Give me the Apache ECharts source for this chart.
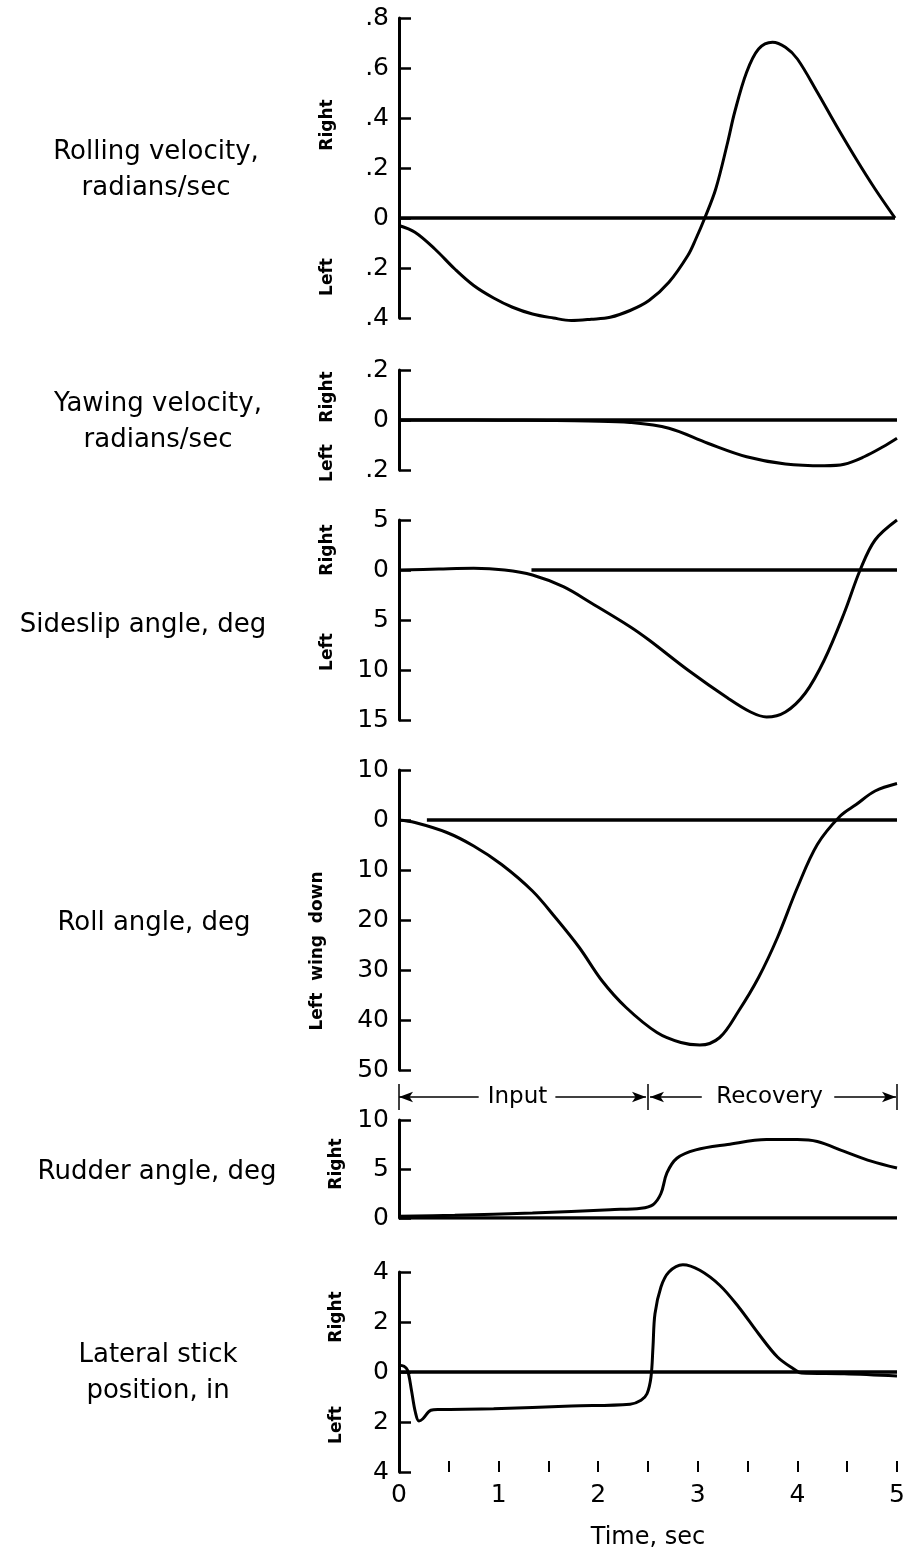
<!DOCTYPE html>
<html><head><meta charset="utf-8">
<script src="https://cdn.jsdelivr.net/npm/echarts@6/dist/echarts.min.js"></script>
<style>html,body{margin:0;padding:0;background:#fff}#c{width:911px;height:1550px}</style>
</head><body><div id="c"></div>
<script>
// ---- data (time in seconds) ----
const timeTicks = [0, 1, 2, 3, 4, 5];

const rollRateT = [0, 0.16, 0.36, 0.56, 0.75, 0.95, 1.14, 1.34, 1.55, 1.73, 1.93, 2.12, 2.32, 2.51, 2.71, 2.90, 2.98, 3.07, 3.18, 3.30, 3.37, 3.49, 3.61, 3.75, 3.88, 4.00, 4.20, 4.39, 4.59, 4.78, 4.98];
const rollRateV = [-0.03, -0.057, -0.124, -0.204, -0.27, -0.32, -0.357, -0.384, -0.40, -0.41, -0.405, -0.397, -0.37, -0.33, -0.257, -0.15, -0.084, 0, 0.116, 0.303, 0.423, 0.583, 0.676, 0.703, 0.683, 0.636, 0.503, 0.37, 0.236, 0.116, 0];

const yawT = [0, 0.5, 1.0, 1.5, 1.9, 2.32, 2.71, 3.10, 3.49, 3.88, 4.27, 4.47, 4.67, 4.86, 5.0];
const yawV = [0, 0, -0.001, -0.002, -0.004, -0.01, -0.033, -0.093, -0.147, -0.176, -0.183, -0.177, -0.147, -0.107, -0.073];

const sideslipT = [0, 0.4, 0.75, 1.06, 1.34, 1.65, 1.93, 2.32, 2.51, 2.9, 3.3, 3.53, 3.69, 3.88, 4.08, 4.27, 4.47, 4.63, 4.78, 5.0];
const sideslipV = [0, 0.1, 0.17, 0, -0.5, -1.67, -3.3, -5.67, -7.0, -10, -12.8, -14.2, -14.7, -14.2, -12.3, -9, -4.3, 0, 3.0, 5.0];

const rollT = [0, 0.16, 0.48, 0.75, 1.03, 1.34, 1.57, 1.81, 2.04, 2.28, 2.59, 2.83, 3.02, 3.22, 3.41, 3.61, 3.80, 4.0, 4.2, 4.43, 4.59, 4.78, 5.0];
const rollV = [0, -0.5, -2.5, -5.2, -8.9, -14.2, -19.5, -25.5, -32.2, -37.5, -42.5, -44.5, -45, -43.5, -38.2, -31.5, -23.5, -13.5, -4.9, 0.8, 3.1, 5.8, 7.3];

const rudderT = [0, 0.56, 1.34, 2.12, 2.43, 2.55, 2.63, 2.69, 2.79, 2.98, 3.30, 3.69, 4.0, 4.2, 4.47, 4.74, 5.0];
const rudderV = [0.17, 0.27, 0.5, 0.85, 1.0, 1.36, 2.5, 4.6, 6.1, 6.95, 7.5, 8.0, 8.0, 7.8, 6.8, 5.8, 5.1];

const stickT = [0, 0.05, 0.086, 0.125, 0.164, 0.2, 0.24, 0.32, 0.40, 0.95, 1.73, 2.32, 2.43, 2.49, 2.53, 2.55, 2.57, 2.63, 2.71, 2.85, 3.02, 3.22, 3.41, 3.61, 3.80, 3.96, 4.04, 4.47, 5.0];
const stickV = [0.27, 0.23, 0.07, -0.73, -1.6, -1.96, -1.87, -1.53, -1.5, -1.47, -1.36, -1.29, -1.13, -0.87, -0.2, 1.0, 2.33, 3.4, 4.0, 4.29, 4.07, 3.47, 2.6, 1.53, 0.6, 0.13, -0.04, -0.07, -0.16];

// zero reference lines: start time per panel
const zeroLineStart = [0, 0, 1.33, 0.28, 0, 0];
const zeroLineEnd = [4.98, 5, 5, 5, 5, 5];

// y-axis ranges per panel
const yMin = [-0.4, -0.2, -15, -50, 0, -4];
const yMax = [0.8, 0.2, 5, 10, 10, 4];
const yStep = [0.2, 0.2, 5, 10, 5, 2];

const panelTitles = ['Rolling velocity,\nradians/sec', 'Yawing velocity,\nradians/sec', 'Sideslip angle, deg', 'Roll angle, deg', 'Rudder angle, deg', 'Lateral stick\nposition, in'];

// phase annotation
const phaseBounds = [0, 2.5, 5];
const phaseNames = ['Input', 'Recovery'];
const phaseLabelAt = [1.19, 3.72];
const phaseArrows = [[0.80, 0], [1.57, 2.48], [3.04, 2.52], [4.37, 4.99]];

// ---- layout ----
const FONT = 'DejaVu Sans';
const gridTops = [18, 370, 520, 770, 1120, 1272];
const gridHeights = [300, 100, 200, 300, 98, 200];
const L = 399, R = 14;

const zip = (t, v) => t.map((x, i) => [x, v[i]]);
const curves = [zip(rollRateT, rollRateV), zip(yawT, yawV), zip(sideslipT, sideslipV), zip(rollT, rollV), zip(rudderT, rudderV), zip(stickT, stickV)];

function fmt(v) {
  let s = String(+Math.abs(v).toFixed(3));
  if (s.startsWith('0.')) s = s.slice(1);
  return s;
}

const grid = [], xAxis = [], yAxis = [], series = [];
for (let i = 0; i < 6; i++) {
  grid.push({ left: L, right: R, top: gridTops[i], height: gridHeights[i], outerBoundsMode: 'none' });
  const last = i === 5;
  xAxis.push({
    type: 'value', gridIndex: i, min: 0, max: 5, interval: last ? 0.5 : 1,
    show: last,
    axisLine: { show: false, onZero: false },
    axisTick: { show: last, inside: true, length: 11, lineStyle: { color: '#000', width: 2 } },
    axisLabel: {
      show: last, margin: 11, color: '#000', fontSize: 25, fontFamily: FONT,
      formatter: v => (timeTicks.indexOf(v) >= 0 ? String(v) : '')
    },
    splitLine: { show: false },
    name: last ? 'Time, sec' : '', nameLocation: 'middle', nameGap: 54,
    nameTextStyle: { color: '#000', fontSize: 24, fontFamily: FONT }
  });
  yAxis.push({
    type: 'value', gridIndex: i, min: yMin[i], max: yMax[i], interval: yStep[i],
    axisLine: { show: true, lineStyle: { color: '#000', width: 3 } },
    axisTick: { show: true, inside: true, length: 12, lineStyle: { color: '#000', width: 2.5 } },
    axisLabel: { margin: 10, color: '#000', fontSize: 25, fontFamily: FONT, formatter: fmt },
    splitLine: { show: false }
  });
  series.push({
    type: 'line', xAxisIndex: i, yAxisIndex: i, symbol: 'none', silent: true,
    data: [[zeroLineStart[i], 0], [zeroLineEnd[i], 0]],
    lineStyle: { color: '#000', width: 3.5 }, z: 3
  });
  series.push({
    type: 'line', xAxisIndex: i, yAxisIndex: i, symbol: 'none', silent: true,
    smooth: 0.35, clip: false,
    data: curves[i],
    lineStyle: { color: '#000', width: 3 }, z: 4
  });
}
// annotation grid
grid.push({ left: L, right: R, top: 1084, height: 26, outerBoundsMode: 'none' });
xAxis.push({ type: 'value', gridIndex: 6, min: 0, max: 5, show: false });
yAxis.push({ type: 'value', gridIndex: 6, min: 0, max: 1, show: false });
series.push({
  type: 'line', xAxisIndex: 6, yAxisIndex: 6, data: [], silent: true,
  markLine: {
    silent: true, symbol: ['none', 'arrow'], symbolSize: [8, 14],
    label: { show: false },
    lineStyle: { type: 'solid', color: '#000', width: 1.5, opacity: 1 },
    data: phaseArrows.map(a => [{ coord: [a[0], 0.5] }, { coord: [a[1], 0.5] }])
  }
});
series.push({
  type: 'line', xAxisIndex: 6, yAxisIndex: 6, data: [], silent: true,
  markLine: {
    silent: true, symbol: 'none', label: { show: false },
    lineStyle: { type: 'solid', color: '#000', width: 1.5, opacity: 1 },
    data: phaseBounds.map(b => ({ xAxis: b }))
  }
});
series.push({
  type: 'scatter', xAxisIndex: 6, yAxisIndex: 6, symbolSize: 1, silent: true,
  itemStyle: { opacity: 0 },
  data: phaseNames.map((n, k) => [phaseLabelAt[k], 0.5, n]),
  label: { show: true, position: 'inside', formatter: p => p.value[2], color: '#000', opacity: 1, fontSize: 23, fontFamily: FONT }
});

// left titles and rotated side labels (text only)
const titlePos = [[156, 170], [158, 422], [143, 625], [154, 923], [157, 1172], [158, 1373]];
const sideLabels = [
  ['Right', 328, 125], ['Left', 328, 277],
  ['Right', 328, 397], ['Left', 328, 463],
  ['Right', 328, 550], ['Left', 328, 652],
  ['Left  wing  down', 318, 951],
  ['Right', 337, 1164],
  ['Right', 337, 1317], ['Left', 337, 1425]
];
const graphic = [];
panelTitles.forEach((t, i) => graphic.push({
  type: 'text', x: titlePos[i][0], y: titlePos[i][1], silent: true,
  style: { text: t, fill: '#000', font: '26px "' + FONT + '"', lineHeight: 36, align: 'center', verticalAlign: 'middle' }
}));
sideLabels.forEach(s => graphic.push({
  type: 'text', x: s[1], y: s[2], rotation: Math.PI / 2, silent: true,
  style: { text: s[0], fill: '#000', font: 'bold 17px "' + FONT + '"', align: 'center', verticalAlign: 'middle' }
}));

const chart = echarts.init(document.getElementById('c'), null, { renderer: 'canvas' });
chart.setOption({ animation: false, backgroundColor: '#fff', grid, xAxis, yAxis, series, graphic });
</script></body></html>
